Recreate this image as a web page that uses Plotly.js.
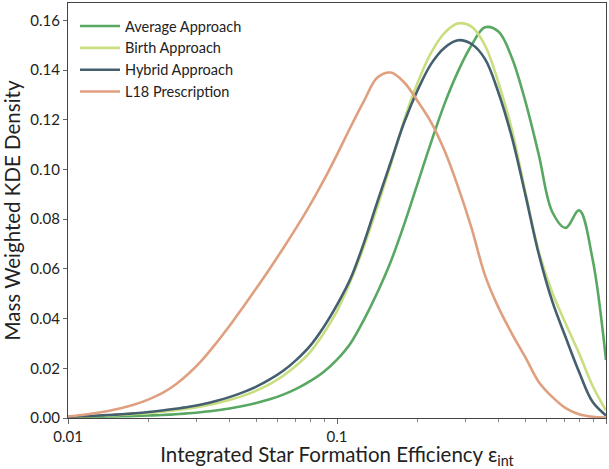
<!DOCTYPE html>
<html>
<head>
<meta charset="utf-8">
<script src="https://cdn.plot.ly/plotly-3.0.1.min.js"></script>
<style>html,body{margin:0;padding:0;background:#fff;}#chart{width:609px;height:469px;}</style>
</head>
<body>
<div id="chart"></div>
<script>
// x positions: log10(eps) from -2 to 0 in 0.05 steps
const logEps = [-2.00,-1.95,-1.90,-1.85,-1.80,-1.75,-1.70,-1.65,-1.60,-1.55,-1.50,-1.45,-1.40,-1.35,-1.30,-1.25,-1.20,-1.15,-1.10,-1.05,-1.00,-0.95,-0.90,-0.85,-0.80,-0.75,-0.70,-0.65,-0.60,-0.55,-0.50,-0.45,-0.40,-0.35,-0.30,-0.25,-0.20,-0.15,-0.10,-0.05,0.00];
const averageApproach = [0.0004,0.0004,0.0005,0.0006,0.0007,0.0008,0.0010,0.0012,0.0015,0.0019,0.0024,0.0030,0.0038,0.0048,0.0060,0.0075,0.0094,0.0118,0.0148,0.0185,0.0235,0.0300,0.0395,0.0505,0.0630,0.0780,0.0945,0.1110,0.1265,0.1395,0.1500,0.1572,0.1555,0.1450,0.1275,0.1060,0.0830,0.0765,0.0836,0.0640,0.0233];
const birthApproach = [0.0005,0.0006,0.0008,0.0010,0.0013,0.0016,0.0020,0.0025,0.0031,0.0038,0.0047,0.0058,0.0072,0.0089,0.0110,0.0136,0.0170,0.0212,0.0265,0.0340,0.0430,0.0550,0.0690,0.0850,0.1020,0.1200,0.1350,0.1470,0.1550,0.1588,0.1575,0.1500,0.1350,0.1160,0.0910,0.0670,0.0505,0.0380,0.0260,0.0130,0.0030];
const hybridApproach = [0.0005,0.0007,0.0009,0.0012,0.0015,0.0019,0.0024,0.0030,0.0037,0.0045,0.0055,0.0068,0.0084,0.0103,0.0126,0.0155,0.0190,0.0235,0.0290,0.0365,0.0455,0.0560,0.0705,0.0870,0.1030,0.1190,0.1320,0.1425,0.1490,0.1520,0.1505,0.1445,0.1310,0.1130,0.0900,0.0660,0.0470,0.0325,0.0185,0.0065,0.0010];
const l18Prescription = [0.0006,0.0012,0.0019,0.0028,0.0040,0.0055,0.0075,0.0100,0.0135,0.0180,0.0235,0.0300,0.0370,0.0445,0.0522,0.0601,0.0683,0.0768,0.0858,0.0955,0.1060,0.1170,0.1275,0.1370,0.1390,0.1350,0.1275,0.1190,0.1075,0.0930,0.0765,0.0575,0.0445,0.0340,0.0245,0.0145,0.0085,0.0040,0.0015,0.0005,0.0002];
const seriesNames = ["Average Approach", "Birth Approach", "Hybrid Approach", "L18 Prescription"];
const seriesColors = ["#58a862", "#c9de80", "#44606f", "#dfa07f"];
const seriesValues = [averageApproach, birthApproach, hybridApproach, l18Prescription];
const xTickLabels = ["0.01", "0.1", "1"];

const epsInt = logEps.map(v => Math.pow(10, v));
const traces = seriesValues.map((vals, i) => ({
  x: epsInt, y: vals, name: seriesNames[i], type: 'scatter', mode: 'lines',
  line: {color: seriesColors[i], width: 2.6, shape: 'spline', smoothing: 1}
}));

const font = "Lato, 'Open Sans', sans-serif";
const layout = {
  width: 609, height: 469,
  margin: {l: 68, r: 3, t: 3, b: 51},
  paper_bgcolor: '#fff', plot_bgcolor: '#fff',
  font: {family: font, size: 14, color: '#222'},
  showlegend: true,
  legend: {x: 0.013, y: 0.983, xanchor: 'left', yanchor: 'top', bgcolor: 'rgba(255,255,255,0)', font: {family: font, size: 14.5, color: '#222'}, tracegroupgap: 0, itemwidth: 40},
  xaxis: {
    type: 'log', range: [-2, 0],
    tickmode: 'array', tickvals: [0.01, 0.1, 1], ticktext: xTickLabels,
    showgrid: false, zeroline: false,
    showline: true, linecolor: '#444', linewidth: 1, mirror: true,
    ticks: 'outside', ticklen: 5, tickcolor: '#666',
    tickfont: {family: font, size: 15, color: '#222'},
    minor: {ticks: 'outside', ticklen: 3, tickcolor: '#888', tickvals: [0.02,0.03,0.04,0.05,0.06,0.07,0.08,0.09,0.2,0.3,0.4,0.5,0.6,0.7,0.8,0.9], showgrid: false},
    title: {text: 'Integrated Star Formation Efficiency ε<sub>int</sub>', font: {family: font, size: 20.5, color: '#222'}, standoff: 7}
  },
  yaxis: {
    range: [0, 0.167], dtick: 0.02, tickformat: '.2f',
    showgrid: false, zeroline: false,
    showline: true, linecolor: '#444', linewidth: 1, mirror: true,
    ticks: 'outside', ticklen: 4, tickcolor: '#666',
    tickfont: {family: font, size: 15, color: '#222'},
    title: {text: 'Mass Weighted KDE Density', font: {family: font, size: 20.5, color: '#222'}, standoff: 6}
  }
};
Plotly.newPlot('chart', traces, layout, {staticPlot: true, displayModeBar: false});
</script>
</body>
</html>
